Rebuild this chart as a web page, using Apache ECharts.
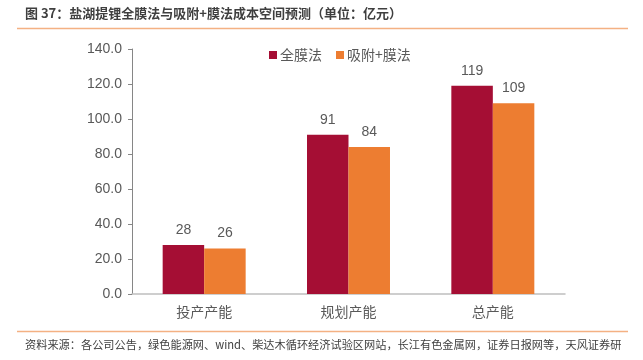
<!DOCTYPE html>
<html><head><meta charset="utf-8">
<script src="https://cdn.jsdelivr.net/npm/echarts@6/dist/echarts.min.js"></script>
<style>html,body{margin:0;padding:0;background:#fff}#c{width:643px;height:360px}</style>
</head><body><div id="c"></div>
<script>
const categories = ['投产产能', '规划产能', '总产能'];
const seriesNames = ['全膜法', '吸附+膜法'];
const fullMembrane = [28, 91, 119];
const adsorptionMembrane = [26, 84, 109];
const yTicks = [0, 20, 40, 60, 80, 100, 120, 140];
const titleText = '图 37：盐湖提锂全膜法与吸附+膜法成本空间预测（单位：亿元）';
const sourceText = '资料来源：各公司公告，绿色能源网、wind、柴达木循环经济试验区网站，长江有色金属网，证券日报网等，天风证券研';

const font = '"Noto Sans CJK SC", "Liberation Sans", Arial, sans-serif';
const chart = echarts.init(document.getElementById('c'), null, {renderer: 'canvas'});
chart.setOption({
  animation: false,
  textStyle: {fontFamily: font},
  graphic: [
    {type: 'text', left: 25, top: 7, style: {text: titleText, font: 'bold 13px ' + font, fill: '#3f3f3f'}},
    {type: 'line', shape: {x1: 17, y1: 28.5, x2: 628, y2: 28.5}, style: {stroke: '#F4B183', lineWidth: 1.5}},
    {type: 'line', shape: {x1: 17, y1: 331.5, x2: 628, y2: 331.5}, style: {stroke: '#F4B183', lineWidth: 1.5}},
    {type: 'text', left: 25, top: 339, style: {text: sourceText, font: '11.2px ' + font, fill: '#404040'}}
  ],
  legend: {
    data: seriesNames, left: 264, top: 43, itemWidth: 8, itemHeight: 8, itemGap: 14,
    icon: 'rect', textStyle: {fontSize: 14, color: '#595959', fontFamily: font, padding: [0,0,0,-2]}
  },
  grid: {left: 132, right: 78, top: 49, bottom: 66, containLabel: false},
  xAxis: {
    type: 'category', data: categories,
    axisLine: {lineStyle: {color: '#BFBFBF', width: 1.5}},
    axisTick: {show: false},
    axisLabel: {fontSize: 14, color: '#595959', margin: 11, fontFamily: font}
  },
  yAxis: {
    type: 'value', min: yTicks[0], max: yTicks[yTicks.length - 1], interval: 20,
    axisLine: {show: true, lineStyle: {color: '#868686'}},
    axisTick: {show: true, length: 4, lineStyle: {color: '#868686'}},
    splitLine: {show: false},
    axisLabel: {fontSize: 14, color: '#595959', margin: 10, fontFamily: '"Liberation Sans", Arial, sans-serif',
      formatter: v => v.toFixed(1)}
  },
  series: [
    {name: seriesNames[0], type: 'bar', data: fullMembrane, barGap: '0%', barCategoryGap: '42.5%',
      itemStyle: {color: '#A50E34'},
      label: {show: true, position: 'top', distance: 8, fontSize: 14, color: '#595959', fontFamily: '"Liberation Sans", Arial, sans-serif'}},
    {name: seriesNames[1], type: 'bar', data: adsorptionMembrane, barGap: '0%', barCategoryGap: '42.5%',
      itemStyle: {color: '#ED7D31'},
      label: {show: true, position: 'top', distance: 8, fontSize: 14, color: '#595959', fontFamily: '"Liberation Sans", Arial, sans-serif'}}
  ]
});
</script></body></html>
